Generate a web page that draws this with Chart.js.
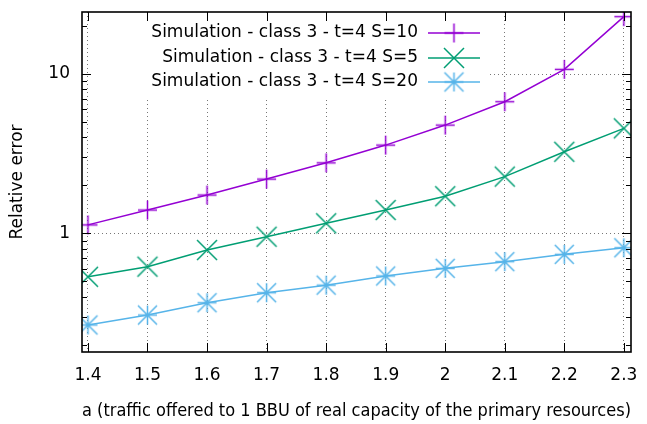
<!DOCTYPE html>
<html>
<head>
<meta charset="utf-8">
<script src="https://cdn.jsdelivr.net/npm/chart.js@4/dist/chart.umd.min.js"></script>
<style>
  html, body { margin: 0; padding: 0; background: #fff; }
  #wrap { width: 647px; height: 424px; }
</style>
</head>
<body>
<div id="wrap"><canvas id="chart"></canvas></div>
<script>
// values
const loads = [1.4, 1.5, 1.6, 1.7, 1.8, 1.9, 2.0, 2.1, 2.2, 2.3];
const errS10 = [1.13, 1.40, 1.74, 2.19, 2.77, 3.58, 4.78, 6.70, 10.7, 22.9];
const errS5 = [0.534, 0.618, 0.786, 0.952, 1.156, 1.40, 1.71, 2.27, 3.25, 4.56];
const errS20 = [0.266, 0.307, 0.367, 0.424, 0.473, 0.540, 0.603, 0.664, 0.738, 0.812];
const labelS10 = 'Simulation - class 3 - t=4 S=10';
const labelS5 = 'Simulation - class 3 - t=4 S=5';
const labelS20 = 'Simulation - class 3 - t=4 S=20';
const yMajor = [1, 10];
const yMinor = [0.2, 0.3, 0.4, 0.5, 0.6, 0.7, 0.8, 0.9, 2, 3, 4, 5, 6, 7, 8, 9, 20];

const FONT = '"DejaVu Sans", Verdana, sans-serif';

// gnuplot style markers as small canvases
function makeMarker(type, color, half) {
    const size = Math.ceil(half * 2 + 4);
    const c = document.createElement('canvas');
    c.width = size;
    c.height = size;
    const g = c.getContext('2d');
    const m = size / 2;
    g.strokeStyle = color;
    g.lineWidth = 1.5;
    g.beginPath();
    if (type === 'plus' || type === 'star') {
        g.moveTo(m - half, m); g.lineTo(m + half, m);
        g.moveTo(m, m - half); g.lineTo(m, m + half);
    }
    if (type === 'x' || type === 'star') {
        g.moveTo(m - half, m - half); g.lineTo(m + half, m + half);
        g.moveTo(m - half, m + half); g.lineTo(m + half, m - half);
    }
    g.stroke();
    return c;
}

const purple = '#9400d3';
const green = '#009e73';
const blue = '#56b4e9';

function toPoints(vals) {
    return loads.map((x, i) => ({ x: x, y: vals[i] }));
}

const datasets = [
    { label: labelS10, data: toPoints(errS10), borderColor: purple, pointStyle: makeMarker('plus', purple, 9.5) },
    { label: labelS5, data: toPoints(errS5), borderColor: green, pointStyle: makeMarker('x', green, 10) },
    { label: labelS20, data: toPoints(errS20), borderColor: blue, pointStyle: makeMarker('star', blue, 9.5) }
].map(d => Object.assign(d, { borderWidth: 1.5, fill: false, tension: 0, pointRadius: 10, pointHoverRadius: 10 }));

// frame, inward ticks and the keyed legend box, like gnuplot
const gnuplotFrame = {
    id: 'gnuplotFrame',
    beforeDatasetsDraw(chart) {
        const ctx = chart.ctx;
        ctx.save();
        ctx.fillStyle = '#fff';
        ctx.fillRect(90, 14, 400, 84);
        ctx.restore();
    },
    afterDatasetsDraw(chart) {
        const ctx = chart.ctx;
        const a = chart.chartArea;
        const xs = chart.scales.x;
        const ys = chart.scales.y;
        ctx.save();
        ctx.strokeStyle = '#000';
        ctx.lineWidth = 1;
        ctx.beginPath();
        loads.forEach(v => {
            const px = Math.round(xs.getPixelForValue(v)) + 0.5;
            ctx.moveTo(px, a.bottom); ctx.lineTo(px, a.bottom - 9);
            ctx.moveTo(px, a.top); ctx.lineTo(px, a.top + 9);
        });
        yMajor.forEach(v => {
            const py = Math.round(ys.getPixelForValue(v)) + 0.5;
            ctx.moveTo(a.left, py); ctx.lineTo(a.left + 9, py);
            ctx.moveTo(a.right, py); ctx.lineTo(a.right - 9, py);
        });
        yMinor.forEach(v => {
            const py = Math.round(ys.getPixelForValue(v)) + 0.5;
            if (py < a.top || py > a.bottom) return;
            ctx.moveTo(a.left, py); ctx.lineTo(a.left + 5, py);
            ctx.moveTo(a.right, py); ctx.lineTo(a.right - 5, py);
        });
        ctx.stroke();
        ctx.lineWidth = 1.6;
        ctx.strokeRect(a.left, a.top, a.right - a.left, a.bottom - a.top);

        // key
        const rows = [33, 58, 82];
        ctx.font = '17px ' + FONT;
        ctx.textAlign = 'right';
        ctx.textBaseline = 'middle';
        chart.data.datasets.forEach((d, i) => {
            const y = rows[i];
            ctx.fillStyle = '#000';
            ctx.fillText(d.label, 418, y);
            ctx.strokeStyle = d.borderColor;
            ctx.lineWidth = 1.5;
            ctx.beginPath();
            ctx.moveTo(428, y); ctx.lineTo(480, y);
            ctx.stroke();
            const m = d.pointStyle;
            ctx.drawImage(m, 454 - m.width / 2, y - m.height / 2);
        });
        ctx.restore();
    }
};

new Chart(document.getElementById('chart'), {
    type: 'line',
    data: { datasets: datasets },
    plugins: [gnuplotFrame],
    options: {
        responsive: true,
        maintainAspectRatio: false,
        animation: false,
        layout: { padding: { top: 12, right: 16, left: 0, bottom: 0 } },
        plugins: {
            legend: { display: false },
            tooltip: { enabled: false }
        },
        scales: {
            x: {
                type: 'linear',
                min: 1.39,
                max: 2.312,
                afterBuildTicks: scale => { scale.ticks = loads.map(v => ({ value: v })); },
                afterFit: scale => {
                    scale.height = 72;
                    scale.paddingLeft = 0;
                    scale.paddingRight = 0;
                },
                grid: { color: '#777', lineWidth: 1, drawTicks: false },
                border: { display: false, dash: [1, 3] },
                ticks: {
                    autoSkip: false,
                    maxRotation: 0,
                    padding: 13,
                    color: '#000',
                    font: { family: FONT, size: 17 },
                    callback: v => String(Math.round(v * 10) / 10)
                },
                title: {
                    display: true,
                    text: 'a (traffic offered to 1 BBU of real capacity of the primary resources)',
                    color: '#000',
                    font: { family: FONT, size: 17 },
                    padding: { top: 0, bottom: 2 }
                }
            },
            y: {
                type: 'logarithmic',
                min: 0.18,
                max: 24.5,
                afterBuildTicks: scale => { scale.ticks = yMajor.map(v => ({ value: v })); },
                afterFit: scale => {
                    scale.width = 82;
                    scale.paddingTop = 0;
                    scale.paddingBottom = 0;
                },
                grid: { color: '#777', lineWidth: 1, drawTicks: false },
                border: { display: false, dash: [1, 3] },
                ticks: {
                    padding: 12,
                    color: '#000',
                    font: { family: FONT, size: 17 },
                    callback: v => String(v)
                },
                title: {
                    display: true,
                    text: 'Relative error',
                    color: '#000',
                    font: { family: FONT, size: 17 },
                    padding: { top: 7, bottom: 0 }
                }
            }
        }
    }
});
</script>
</body>
</html>
